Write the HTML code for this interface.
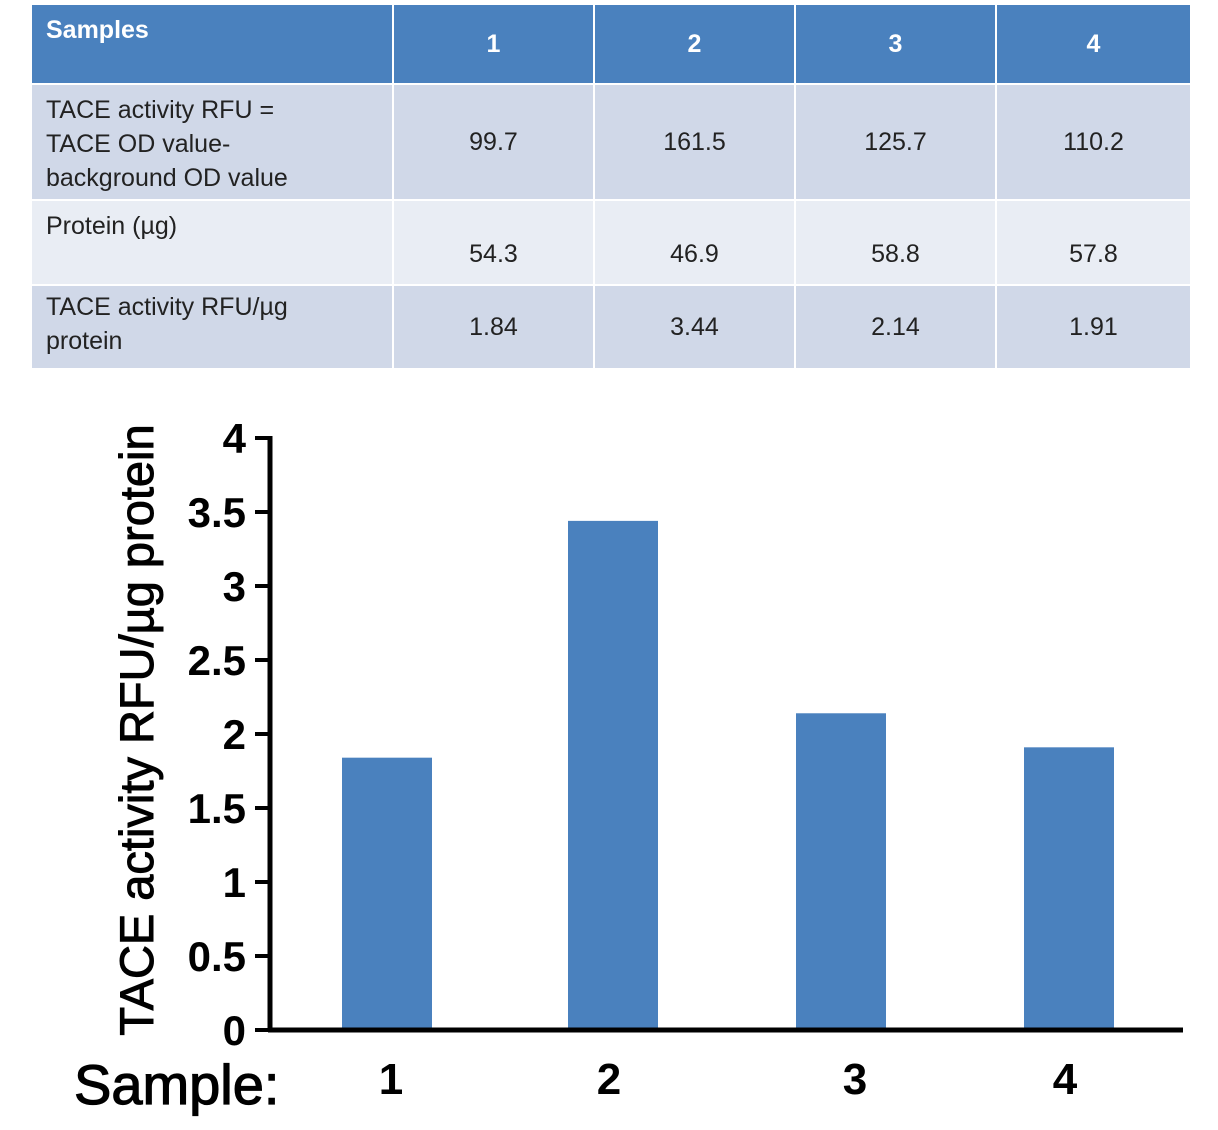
<!DOCTYPE html>
<html><head><meta charset="utf-8"><style>
body{margin:0;width:1218px;height:1130px;background:#fff;font-family:"Liberation Sans",Arial,sans-serif;position:relative;overflow:hidden}
table{position:absolute;left:30px;top:3px;border-collapse:collapse;width:1162px}
td{border:2px solid #fff;font-size:25px;color:#222;text-align:center;padding:0}
td.l{text-align:left;padding-left:14px;vertical-align:top;padding-top:8px;line-height:34px}
tr.h td{background:#4a81be;color:#fff;font-weight:bold;height:70px}
tr.a td{background:#d0d8e8}
tr.b td{background:#e9edf4}
</style></head><body>
<table>
<tr class="h"><td class="l" style="width:346px;padding-top:8px">Samples</td><td style="width:199px">1</td><td style="width:199px">2</td><td style="width:199px">3</td><td>4</td></tr>
<tr class="a" style="height:116px"><td class="l">TACE activity RFU =<br>TACE OD value-<br>background OD value</td><td>99.7</td><td>161.5</td><td>125.7</td><td>110.2</td></tr>
<tr class="b" style="height:85px"><td class="l">Protein (µg)</td><td style="padding-top:24px">54.3</td><td style="padding-top:24px">46.9</td><td style="padding-top:24px">58.8</td><td style="padding-top:24px">57.8</td></tr>
<tr class="a" style="height:84px"><td class="l" style="padding-top:4px">TACE activity RFU/µg<br>protein</td><td>1.84</td><td>3.44</td><td>2.14</td><td>1.91</td></tr>
</table>
<svg id="chart" width="1218" height="1130" style="position:absolute;left:0;top:0"></svg>
<script>
const categories=["1","2","3","4"];
const values=[1.84,3.44,2.14,1.91];
const ticks=[0,0.5,1,1.5,2,2.5,3,3.5,4];
const tickLabels=["0","0.5","1","1.5","2","2.5","3","3.5","4"];
const svg=document.getElementById('chart');const NS='http://www.w3.org/2000/svg';
function y(v){return 1030-v*148;}
const centers=[387,613,841,1069];
function x(i){return centers[i];}
function mk(t,a,p){const e=document.createElementNS(NS,t);for(const k in a)e.setAttribute(k,a[k]);(p||svg).appendChild(e);return e;}
values.forEach((v,i)=>{const r=mk('rect',{x:x(i)-45,y:y(v),width:90,height:1030-y(v),fill:'#4a81be'});


const t=mk('text',{x:x(i)+[4,-4,14,-4][i],y:1094,'font-size':44,'font-weight':'bold','text-anchor':'middle','font-family':'Liberation Sans'});t.textContent=categories[i];

});
ticks.forEach((v,i)=>{const l=mk('line',{x1:255,x2:272,y1:y(v),y2:y(v),stroke:'#000','stroke-width':4});


const t=mk('text',{x:246,y:y(v)+15,'font-size':42,'font-weight':'bold','text-anchor':'end','font-family':'Liberation Sans'});t.textContent=tickLabels[i];

});
const ya=mk('line',{x1:270,x2:270,y1:y(4)-2,y2:1032,stroke:'#000','stroke-width':5});


const xa=mk('line',{x1:268,x2:1183,y1:1030,y2:1030,stroke:'#000','stroke-width':5});


const yt=mk('text',{x:0,y:0,transform:'translate(153,730) rotate(-90)','font-size':47,'text-anchor':'middle','font-family':'Liberation Sans',stroke:'#000','stroke-width':1});yt.textContent='TACE activity RFU/µg protein';


const xt=mk('text',{x:74,y:1104,'font-size':56,'font-family':'Liberation Sans',stroke:'#000','stroke-width':1.2});xt.textContent='Sample:';


</script>
</body></html>
